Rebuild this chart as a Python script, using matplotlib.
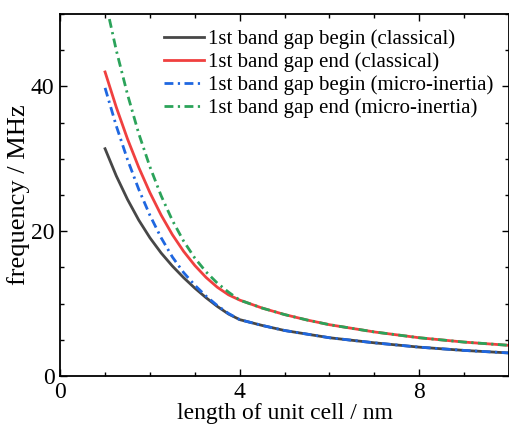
import matplotlib.pyplot as plt
from matplotlib.ticker import MultipleLocator

plt.rcParams['font.family'] = ['Liberation Serif', 'DejaVu Serif']

# unit cell length (nm)
x = [1.0, 1.25, 1.5, 1.75, 2.0, 2.25, 2.5, 2.75, 3.0, 3.25, 3.5, 3.75, 4.0,
     4.5, 5.0, 5.5, 6.0, 7.0, 8.0, 9.0, 10.0]

# frequencies (MHz)
begin_classical = [31.4, 27.65, 24.4, 21.55, 19.1, 17.0, 15.2, 13.6, 12.15, 10.83, 9.63, 8.58, 7.8,
                   7.0, 6.3, 5.8, 5.3, 4.6, 4.0, 3.55, 3.2]
end_classical = [42.0, 37.13, 32.75, 28.83, 25.33, 22.23, 19.53, 17.23, 15.28, 13.63, 12.28, 11.23, 10.5,
                 9.4, 8.5, 7.75, 7.1, 6.1, 5.3, 4.7, 4.25]
begin_micro = [39.8, 34.55, 29.9, 25.8, 22.2, 19.1, 16.45, 14.3, 12.55, 11.05, 9.75, 8.65, 7.8,
               7.0, 6.3, 5.8, 5.3, 4.6, 4.0, 3.55, 3.2]
end_micro = [52.0, 45.0, 38.9, 33.5, 28.9, 24.9, 21.5, 18.65, 16.3, 14.4, 12.85, 11.6, 10.5,
             9.4, 8.5, 7.75, 7.1, 6.1, 5.3, 4.7, 4.25]

labels = ['1st band gap begin (classical)',
          '1st band gap end (classical)',
          '1st band gap begin (micro-inertia)',
          '1st band gap end (micro-inertia)']

fig = plt.figure(figsize=(5.1, 4.25), dpi=100)
ax = fig.add_axes([0.118, 0.115, 0.880, 0.852])

dd = (3.2, 1.6, 0.8, 1.6)
ax.plot(x, begin_classical, color='#474747', lw=2, label=labels[0])
ax.plot(x, end_classical, color='#f0403f', lw=2, label=labels[1])
ax.plot(x, begin_micro, color='#1f67e0', lw=2, dashes=dd, label=labels[2])
ax.plot(x, end_micro, color='#2ba35a', lw=2, dashes=dd, label=labels[3])

ax.set_xlim(0, 10)
ax.set_ylim(0, 50)
ax.xaxis.set_major_locator(MultipleLocator(4))
ax.xaxis.set_minor_locator(MultipleLocator(1))
ax.yaxis.set_major_locator(MultipleLocator(20))
ax.yaxis.set_minor_locator(MultipleLocator(5))
ax.tick_params(which='both', direction='in', top=True, right=True, labelsize=17, width=1)
ax.tick_params(which='major', length=5, pad=4)
ax.tick_params(which='minor', length=3)
for s in ax.spines.values():
    s.set_linewidth(1.3)

ax.set_xlabel('length of unit cell / nm', fontsize=17, labelpad=0)
ax.set_ylabel('frequency / MHz', fontsize=19, labelpad=1)

ax.legend(loc='upper right', frameon=False, fontsize=15, handlelength=1.9,
          handletextpad=0.2, labelspacing=0.15, borderaxespad=0.35)

fig.savefig('out.png', dpi=100)
